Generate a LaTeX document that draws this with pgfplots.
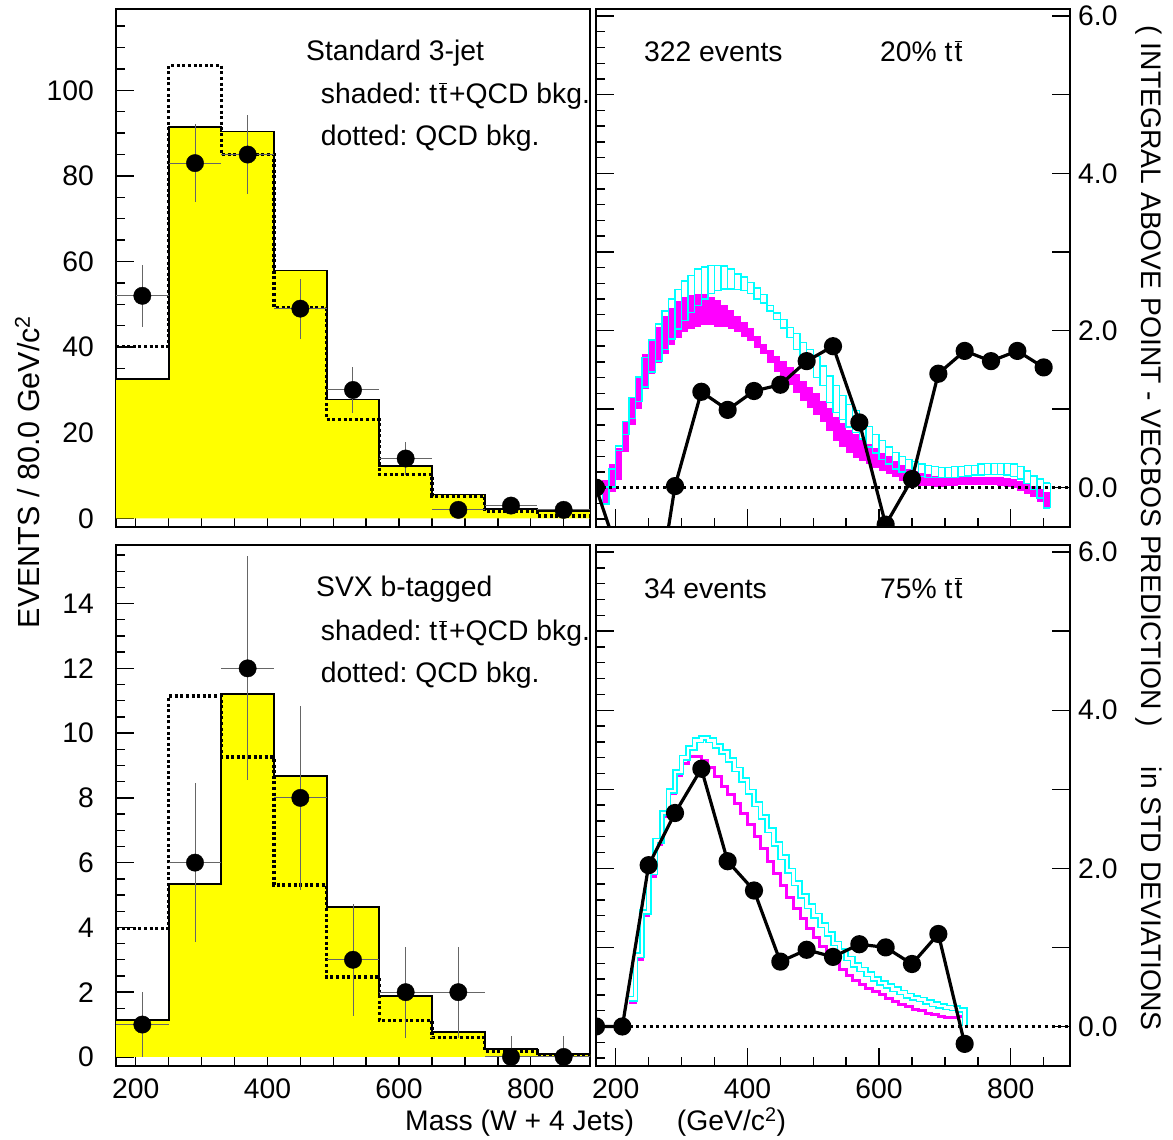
\documentclass[border=0pt]{standalone}
\usepackage{pgfplots}
\pgfplotsset{compat=1.18}
\usepackage{pgfplotstable}
\usepackage{fontspec}
\setmainfont{Liberation Sans}
\frenchspacing
\definecolor{rmag}{RGB}{255,0,255}
\definecolor{rcyan}{RGB}{0,255,255}
\definecolor{ryel}{RGB}{255,255,0}
\newcommand\f{\fontsize{28.3}{34}\selectfont}
\newcommand\ttb{t\hspace{2pt}$\overline{\mbox{t}}$}

% ---------------- left panels: histograms ----------------
\pgfplotstableread{
x sol dot
170 32.6 40.2
250 91.4 105.8
330 90.4 85.0
410 57.9 49.2
490 27.8 23.1
570 12.2 10.3
650 5.6 5.2
730 2.2 1.6
810 1.8 0.6
890 1.8 0.6
}\histA
\pgfplotstableread{
x y ex ey
210 52 40 7.21
290 83 40 9.11
370 85 40 9.22
450 49 40 7.00
530 30 40 5.48
610 14 40 3.74
690 2 40 1.41
770 3 40 1.73
850 2 40 1.41
}\dataA
\pgfplotstableread{
x sol dot
170 1.13 3.97
250 5.33 11.15
330 11.21 9.26
410 8.68 5.31
490 4.62 2.47
570 1.89 1.13
650 0.78 0.59
730 0.25 0.18
810 0.08 0.05
890 0.08 0.05
}\histB
\pgfplotstableread{
x y ex eyp eym
210 1 40 1 1
290 6 40 2.45 2.45
370 12 40 3.46 3.46
450 8 40 2.83 2.83
530 3 40 1.73 1.73
610 2 40 1.41 1.41
690 2 40 1.41 1.41
770 0 40 0.65 0
850 0 40 0.65 0
}\dataB

% ---------------- right panels ----------------
\pgfplotstableread{
x lo hi
180 -0.21 0.01
190 0.01 0.24
200 0.47 0.53
210 0.68 0.84
220 0.88 1.15
230 1.10 1.41
240 1.28 1.66
250 1.47 1.88
260 1.61 2.08
270 1.76 2.25
280 1.89 2.40
290 2.02 2.52
300 2.13 2.63
310 2.23 2.70
320 2.32 2.78
330 2.40 2.81
340 2.47 2.83
350 2.51 2.83
360 2.53 2.82
370 2.53 2.78
380 2.52 2.72
390 2.51 2.68
400 2.47 2.61
410 2.40 2.54
420 2.35 2.46
430 2.25 2.32
440 2.14 2.22
450 2.03 2.14
460 1.91 2.04
470 1.76 1.96
480 1.64 1.85
490 1.53 1.76
500 1.40 1.67
510 1.30 1.55
520 1.08 1.42
530 0.96 1.30
540 0.87 1.17
550 0.77 1.06
560 0.70 0.98
570 0.62 0.88
580 0.52 0.78
590 0.44 0.68
600 0.36 0.60
610 0.30 0.52
620 0.24 0.45
630 0.20 0.40
640 0.17 0.36
650 0.15 0.33
660 0.14 0.30
670 0.13 0.28
680 0.13 0.27
690 0.13 0.26
700 0.13 0.26
710 0.13 0.27
720 0.14 0.27
730 0.15 0.28
740 0.16 0.28
750 0.16 0.30
760 0.17 0.31
770 0.17 0.31
780 0.17 0.31
790 0.16 0.31
800 0.14 0.30
810 0.11 0.27
820 0.05 0.21
830 -0.02 0.15
840 -0.13 0.11
850 -0.26 0.06
860 -0.26 0.06
}\cyanT
\pgfplotstableread{
x lo hi
180 -0.20 0.10
190 -0.05 0.30
200 0.10 0.50
210 0.45 0.83
220 0.80 1.15
230 1.00 1.42
240 1.25 1.70
250 1.45 1.89
260 1.58 2.05
270 1.70 2.18
280 1.82 2.29
290 1.90 2.38
300 1.98 2.42
310 2.02 2.45
320 2.05 2.47
330 2.07 2.46
340 2.07 2.43
350 2.05 2.39
360 2.04 2.33
370 2.02 2.26
380 1.98 2.19
390 1.92 2.11
400 1.86 2.03
410 1.78 1.93
420 1.70 1.83
430 1.58 1.75
440 1.47 1.68
450 1.38 1.61
460 1.30 1.53
470 1.20 1.45
480 1.10 1.36
490 1.01 1.28
500 0.93 1.20
510 0.83 1.10
520 0.72 1.02
530 0.60 0.90
540 0.52 0.82
550 0.44 0.74
560 0.38 0.68
570 0.34 0.62
580 0.30 0.55
590 0.25 0.50
600 0.21 0.44
610 0.17 0.40
620 0.13 0.34
630 0.09 0.29
640 0.06 0.24
650 0.04 0.21
660 0.02 0.19
670 0.02 0.17
680 0.01 0.15
690 0.01 0.14
700 0.02 0.13
710 0.02 0.13
720 0.03 0.13
730 0.03 0.13
740 0.03 0.13
750 0.03 0.14
760 0.03 0.14
770 0.03 0.14
780 0.02 0.13
790 0.01 0.12
800 -0.01 0.11
810 -0.04 0.09
820 -0.08 0.05
830 -0.12 0.02
840 -0.18 -0.02
850 -0.25 -0.06
}\magT
\pgfplotstableread{
x y
170 0.00
210 -1.00
250 -2.10
290 0.02
330 1.22
370 0.99
410 1.23
450 1.31
490 1.61
530 1.80
570 0.83
610 -0.47
650 0.11
690 1.45
730 1.74
770 1.61
810 1.74
850 1.53
}\ptsT
\pgfplotstableread{
x c m
220 0.35 0.30
230 0.90 0.85
240 1.45 1.40
250 1.95 1.90
260 2.35 2.30
270 2.70 2.65
280 2.98 2.95
290 3.22 3.18
300 3.40 3.33
310 3.52 3.42
320 3.62 3.41
330 3.65 3.36
340 3.62 3.27
350 3.55 3.16
360 3.47 3.04
370 3.37 2.93
380 3.25 2.82
390 3.12 2.70
400 2.97 2.55
410 2.81 2.40
420 2.65 2.25
430 2.48 2.09
440 2.31 1.93
450 2.14 1.78
460 1.97 1.63
470 1.81 1.49
480 1.65 1.36
490 1.52 1.24
500 1.40 1.12
510 1.28 1.01
520 1.17 0.91
530 1.05 0.81
540 0.95 0.72
550 0.86 0.65
560 0.78 0.58
570 0.72 0.53
580 0.66 0.48
590 0.60 0.44
600 0.55 0.40
610 0.51 0.36
620 0.47 0.32
630 0.43 0.28
640 0.39 0.25
650 0.36 0.22
660 0.34 0.20
670 0.31 0.17
680 0.28 0.15
690 0.26 0.13
700 0.24 0.11
710 0.23 0.11
720 0.21 0.12
730 0.00 0.12
}\bandB
\pgfplotstableread{
x y
170 0.00
210 0.00
250 2.04
290 2.70
330 3.26
370 2.09
410 1.72
450 0.82
490 0.97
530 0.88
570 1.04
610 1.00
650 0.79
690 1.17
730 -0.22
}\ptsB

\pgfplotsset{
  base/.style={
    scale only axis, width=474pt,
    xmin=170, xmax=890,
    axis line style={line width=1.8pt},
    tick style={black, line width=1.4pt},
    tick align=inside,
    major tick length=18pt, minor tick length=9pt,
    xtick pos=lower, ytick pos=left,
    xtick={200,400,600,800},
    minor xtick={250,300,350,450,500,550,650,700,750,850},
    /pgf/number format/assume math mode=true,
    tick label style={font=\f, inner sep=0pt},
    xticklabel style={yshift=-13pt},
    yticklabel style={xshift=-22pt},
    scaled ticks=false,
    clip=true, clip marker paths=true,
  },
  histfill/.style={fill=ryel, draw=none, const plot mark left},
  histsol/.style={black, line width=1.8pt, const plot mark left},
  histdot/.style={black, line width=3.3pt, dash pattern=on 3pt off 2.6pt, const plot mark left},
  datapts/.style={only marks, mark=*, mark size=8.7pt, mark options={fill=black, draw=black},
    error bars/.cd, x dir=both, x explicit, y dir=both, y explicit, error mark=none,
    error bar style={black!60, line width=1pt}},
  zeroline/.style={black, line width=3.3pt, dash pattern=on 3pt off 3.7pt},
  blackline/.style={black, line width=3.2pt, line join=round, mark=*, mark size=7.5pt, mark options={solid, fill=black}},
  boxbar/.style n args={2}{draw=none, error bars/.cd, y dir=both, y explicit, error mark=none,
    error bar style={draw=#1, solid, line width=#2}},
  rightax/.style={
    scale only axis, width=474pt,
    xmin=170, xmax=890, ymin=-0.5, ymax=6.09,
    axis x line=none, axis y line*=right,
    axis line style={line width=1.8pt},
    tick style={black, line width=1.4pt},
    tick align=inside, major tick length=18pt,
    ytick={0,1,2,3,4,5,6}, yticklabels={0.0,,2.0,,4.0,,6.0},
    tick label style={font=\f, inner sep=0pt},
    yticklabel style={xshift=8pt},
  },
}

\begin{document}
\begin{tikzpicture}[x=1pt,y=1pt]
\useasboundingbox (0,0) rectangle (1173,1140);

% ---------- top left ----------
\begin{axis}[base, at={(116pt,613pt)}, anchor=south west, height=518pt,
  ymin=-2, ymax=119, ytick={0,20,...,100}, minor ytick={5,10,...,115}, xticklabels={}]
\addplot[histfill] table[x=x,y=sol]{\histA} \closedcycle;
\addplot[histsol] table[x=x,y=sol]{\histA};
\addplot[histdot] table[x=x,y=dot]{\histA};
\addplot[datapts] table[x=x,y=y,x error=ex,y error=ey]{\dataA};
\end{axis}

% ---------- bottom left ----------
\begin{axis}[base, at={(116pt,74pt)}, anchor=south west, height=521pt,
  ymin=-0.28, ymax=15.81, ytick={0,2,...,14}, minor ytick={0.5,1,...,15.5}]
\addplot[histfill] table[x=x,y=sol]{\histB} \closedcycle;
\addplot[histsol] table[x=x,y=sol]{\histB};
\addplot[histdot] table[x=x,y=dot]{\histB};
\addplot[datapts] table[x=x,y=y,x error=ex,y error plus=eyp,y error minus=eym]{\dataB};
\end{axis}

% ---------- top right ----------
\begin{axis}[base, at={(596pt,613pt)}, anchor=south west, height=518pt,
  ymin=-0.5, ymax=6.09, ytick={0,1,2,3,4,5,6},
  minor ytick={-0.4,-0.2,0.2,0.4,0.6,0.8,1.2,1.4,1.6,1.8,2.2,2.4,2.6,2.8,3.2,3.4,3.6,3.8,4.2,4.4,4.6,4.8,5.2,5.4,5.6,5.8,6.0},
  xticklabels={}, yticklabels={}]
% magenta filled boxes: one thick vertical bar per 10-unit bin
\addplot[boxbar={rmag}{6.8pt}]
  table[x expr={\thisrow{x}+5}, y expr={(\thisrow{lo}+\thisrow{hi})/2}, y error expr={(\thisrow{hi}-\thisrow{lo})/2}]{\magT};
% cyan hollow boxes
\addplot[rcyan, line width=1.4pt, const plot mark left] table[x=x,y=hi]{\cyanT};
\addplot[rcyan, line width=1.4pt, const plot mark left] table[x=x,y=lo]{\cyanT};
\addplot[boxbar={rcyan}{1.4pt}]
  table[x=x, y expr={(\thisrow{lo}+\thisrow{hi})/2}, y error expr={(\thisrow{hi}-\thisrow{lo})/2}]{\cyanT};
\addplot[skip coords between index={68}{69}, boxbar={rcyan}{1.4pt}]
  table[x expr={\thisrow{x}+10}, y expr={(\thisrow{lo}+\thisrow{hi})/2}, y error expr={(\thisrow{hi}-\thisrow{lo})/2}]{\cyanT};
\addplot[zeroline] coordinates {(170,0) (890,0)};
\addplot[blackline] table[x=x,y=y]{\ptsT};
\end{axis}
\begin{axis}[rightax, at={(596pt,613pt)}, anchor=south west, height=518pt]
\addplot[draw=none] coordinates {(170,0) (890,6)};
\end{axis}

% ---------- bottom right ----------
\begin{axis}[base, at={(596pt,74pt)}, anchor=south west, height=521pt,
  ymin=-0.5, ymax=6.09, ytick={0,1,2,3,4,5,6},
  minor ytick={-0.4,-0.2,0.2,0.4,0.6,0.8,1.2,1.4,1.6,1.8,2.2,2.4,2.6,2.8,3.2,3.4,3.6,3.8,4.2,4.4,4.6,4.8,5.2,5.4,5.6,5.8,6.0},
  yticklabels={}]
\addplot[rmag, line width=3pt, const plot mark left] table[x=x,y=m]{\bandB};
\addplot[rcyan, line width=1.6pt, double=white, double distance=2.6pt, const plot mark left] table[x=x,y=c]{\bandB};
\addplot[zeroline] coordinates {(170,0) (890,0)};
\addplot[blackline] table[x=x,y=y]{\ptsB};
\end{axis}
\begin{axis}[rightax, at={(596pt,74pt)}, anchor=south west, height=521pt]
\addplot[draw=none] coordinates {(170,0) (890,6)};
\end{axis}

% ---------- texts ----------
\begin{scope}[every node/.style={inner sep=0pt, font=\f}]
\node[anchor=base west] at (306,1079.7) {Standard 3-jet};
\node[anchor=base west] at (320.7,1036.6) {shaded: \ttb\hspace{2pt}+QCD bkg.};
\node[anchor=base west] at (320.7,994.5) {dotted: QCD bkg.};
\node[anchor=base west] at (643.9,1078.6) {322 events};
\node[anchor=base west] at (880,1078.6) {20\% \ttb};
\node[anchor=base west] at (316,543) {SVX b-tagged};
\node[anchor=base west] at (320.7,499.1) {shaded: \ttb\hspace{2pt}+QCD bkg.};
\node[anchor=base west] at (320.7,457.1) {dotted: QCD bkg.};
\node[anchor=base west] at (643.9,541.9) {34 events};
\node[anchor=base west] at (880,541.9) {75\% \ttb};
\node[anchor=base west] at (405,9) {Mass (W + 4 Jets)\hspace{43pt}(GeV/c\textsuperscript{2})};
\node[rotate=90, anchor=base, font=\fontsize{30.5}{36}\selectfont] at (39,668) {EVENTS / 80.0 GeV/c\textsuperscript{2}};
\node[rotate=-90, anchor=base] at (1141.7,612) {( INTEGRAL ABOVE POINT - VECBOS PREDICTION )\hspace{40pt}in STD DEVIATIONS};
\end{scope}
\end{tikzpicture}
\end{document}
